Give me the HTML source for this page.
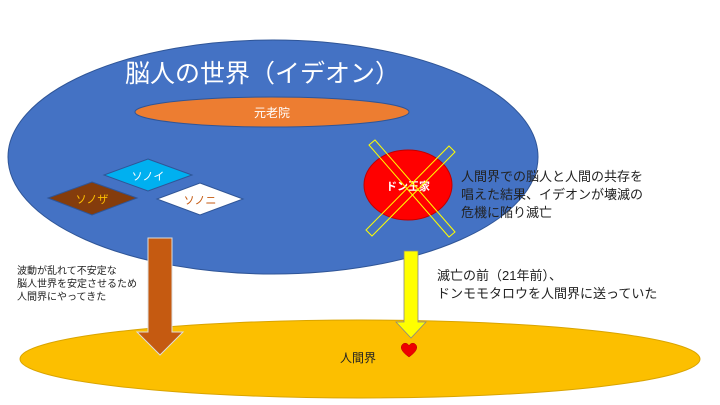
<!DOCTYPE html>
<html><head><meta charset="utf-8"><style>
body{margin:0;width:720px;height:405px;overflow:hidden;background:#fff;font-family:"Liberation Sans","Noto Sans CJK JP",sans-serif}
</style></head><body>
<svg width="720" height="405" viewBox="0 0 720 405" xmlns="http://www.w3.org/2000/svg" style="position:absolute;left:0;top:0">
<g font-family="Liberation Sans, Noto Sans CJK JP, sans-serif">
<ellipse cx="360" cy="359" rx="340" ry="39" fill="#fcbf00" stroke="#d9a400"/>
<ellipse cx="273" cy="157" rx="265" ry="117" fill="#4472c4" stroke="#2f5597"/>
<text x="125" y="82" font-size="25" fill="#fff">脳人の世界（イデオン）</text>
<ellipse cx="272" cy="112" rx="137" ry="15" fill="#ed7d31" stroke="#2f5597"/>
<text x="272" y="117" font-size="12" fill="#fff" text-anchor="middle">元老院</text>
<polygon points="148,159 192,175 148,191 104,175" fill="#00b0f0" stroke="#2f5597"/>
<text x="148" y="180" font-size="11" fill="#fff" text-anchor="middle">ソノイ</text>
<polygon points="92,182 137,198 92,215 48,198" fill="#843c0c" stroke="#2f5597"/>
<text x="92" y="203" font-size="11" fill="#ffc000" text-anchor="middle">ソノザ</text>
<polygon points="200,183 243,199 200,215 157,199" fill="#fff" stroke="#2f5597"/>
<text x="200" y="204" font-size="11" fill="#c55a11" text-anchor="middle">ソノニ</text>
<ellipse cx="408" cy="185" rx="44" ry="35" fill="#ff0000" stroke="#c00000"/>
<text x="408" y="190" font-size="11" fill="#fff" font-weight="bold" text-anchor="middle">ドン王家</text>
<g fill="none" stroke="#ffff00" stroke-width="1">
<polygon points="369,145 375,140 455,232 449,237"/>
<polygon points="449,146 455,152 372,236 366,230"/>
</g>
<text font-size="13" fill="#222"><tspan x="461" y="181">人間界での脳人と人間の共存を</tspan><tspan x="461" y="199">唱えた結果、イデオンが壊滅の</tspan><tspan x="461" y="217">危機に陥り滅亡</tspan></text>
<text font-size="10" fill="#222"><tspan x="17" y="274">波動が乱れて不安定な</tspan><tspan x="17" y="287">脳人世界を安定させるため</tspan><tspan x="17" y="300">人間界にやってきた</tspan></text>
<text font-size="13" fill="#222"><tspan x="437" y="280">滅亡の前（21年前）、</tspan><tspan x="437" y="298">ドンモモタロウを人間界に送っていた</tspan></text>
<polygon points="148,238 172,238 172,332 183,332 160,355 137,332 148,332" fill="#c55a11" stroke="#ddd"/>
<polygon points="404,251 418,251 418,322 426,322 411,338 396,322 404,322" fill="#ffff00" stroke="#888" stroke-width="0.8"/>
<path d="M409,357 C402,352 400,348 402,345 C404,342 408,343 409,346 C410,343 414,342 416,345 C418,348 416,352 409,357 Z" fill="#e00" stroke="#a00" stroke-width="0.5"/>
<text x="340" y="362" font-size="12" fill="#222">人間界</text>
</g>
</svg>
</body></html>
